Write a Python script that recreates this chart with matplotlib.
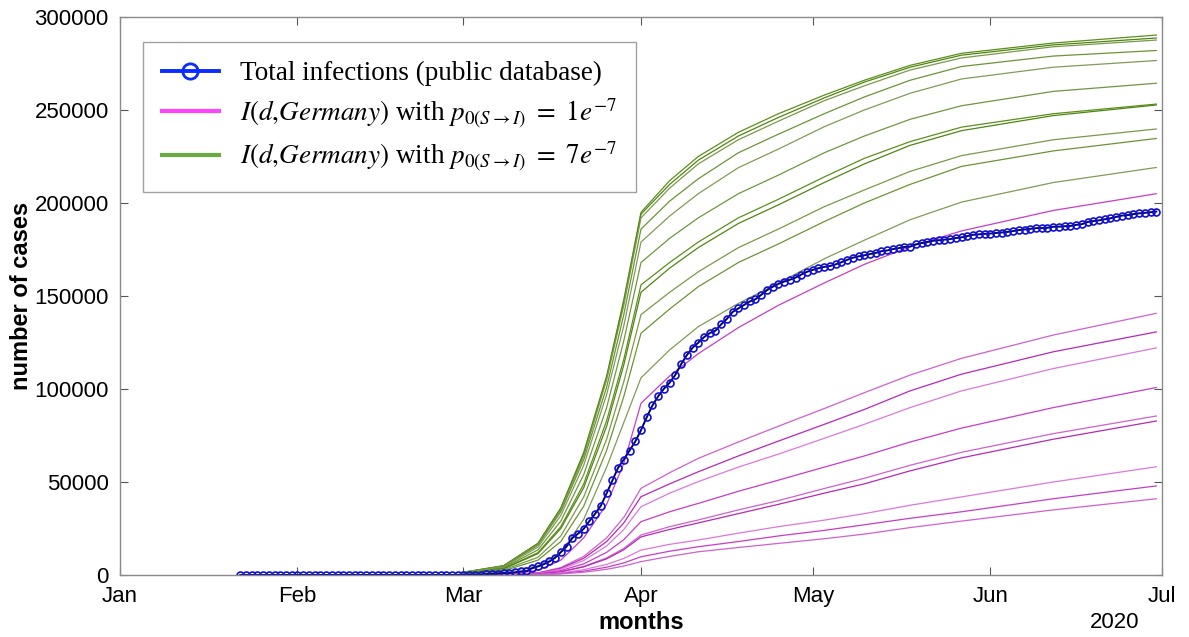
import numpy as np
import pandas as pd
import matplotlib
matplotlib.use("Agg")
import matplotlib.pyplot as plt
from matplotlib.lines import Line2D

plt.rcParams['font.family'] = ['Liberation Sans', 'DejaVu Sans']
plt.rcParams['mathtext.fontset'] = 'stix'

# reported cumulative infections, Germany, 22 Jan - 30 Jun 2020
total_cases = [
    0, 0, 0, 0, 0, 1, 4, 4, 4, 5,
    8, 10, 12, 12, 12, 12, 13, 13, 14, 14, 16, 16, 16, 16, 16, 16, 16, 16, 16, 16,
    16, 16, 16, 16, 17, 27, 46, 48, 79,
    130, 159, 196, 262, 482, 670, 799, 1040, 1176, 1457, 1908, 2078, 3675, 4585, 5795,
    7272, 9257, 12327, 15320, 19848, 22213, 24873, 29056, 32986, 37323, 43938, 50871,
    57695, 62095, 66885, 71808,
    77872, 84794, 91159, 96092, 100123, 103374, 107663, 113296, 118181, 122171, 124908,
    127854, 130072, 131359, 134753, 137698, 141397, 143342, 145184, 147065, 148291,
    150648, 153129, 154999, 156513, 157770, 158758, 159912, 161539, 163009,
    164077, 164967, 165664, 166152, 167007, 168162, 169430, 170588, 171324, 171879,
    172576, 173171, 174098, 174478, 175233, 175752, 176369, 176551, 177778, 178473,
    179021, 179710, 179986, 180328, 180600, 181200, 181524, 182196, 182922, 183189, 183410,
    183594, 183879, 184121, 184472, 184924, 185450, 185750, 186109, 186506, 186522,
    186691, 187226, 187267, 187518, 187682, 188252, 188604, 189817, 190299, 190670,
    191272, 191768, 192556, 193243, 193499, 194036, 194458, 194693, 195042, 195418,
]
case_dates = pd.date_range('2020-01-22', '2020-06-30')

# model curves, values read at these dates (thousands of cases)
model_dates = pd.to_datetime([
    '2020-03-01', '2020-03-08', '2020-03-14', '2020-03-18', '2020-03-22',
    '2020-03-26', '2020-03-29', '2020-04-01', '2020-04-06', '2020-04-11',
    '2020-04-18', '2020-04-25', '2020-05-03', '2020-05-10', '2020-05-18',
    '2020-05-27', '2020-06-12', '2020-06-30',
])

green_k = [
    [1.5, 5.0, 17, 36, 66, 107, 148, 195, 212, 225, 238, 248, 258, 266, 274, 280.5, 286, 290.3],
    [1.5, 5.0, 17, 36, 65, 106, 147, 194, 210, 223, 236, 246, 256.5, 265, 273, 279.5, 285, 288.7],
    [1.4, 4.8, 16.5, 35, 64, 105, 145, 192, 208, 221, 234, 244, 255, 263, 271.5, 278, 284, 287.6],
    [1.4, 4.6, 16, 34, 62, 101, 140, 186, 201, 213, 227, 237, 248, 257, 266, 273.4, 279, 282],
    [1.3, 4.3, 15, 32, 59, 97, 134, 179, 193, 205, 219, 229, 241, 250, 259, 266.7, 273, 276.6],
    [1.2, 3.9, 13.5, 29, 54, 90, 126, 168, 181, 192, 205, 215, 227, 236, 245, 252.3, 260, 264.4],
    [1.1, 3.5, 12, 26, 49, 83, 116, 156, 168, 179, 192, 202, 214, 224, 233, 240.8, 248, 253.2],
    [1.0, 3.3, 11.5, 25, 47, 80, 113, 152, 165, 176, 189, 199, 211, 221, 231, 238.9, 247, 252.7],
    [0.9, 2.8, 9.5, 21, 42, 73, 104, 140, 152, 163, 176, 186, 198, 207, 217, 225.5, 234, 239.8],
    [0.7, 2.3, 8, 18, 37, 67, 96, 130, 143, 155, 168, 178, 190, 200, 210, 219.7, 228, 234.7],
    [0.5, 1.5, 5, 12, 30, 58, 82, 106, 121, 133.5, 146, 157, 170, 180, 191, 200.5, 211, 219.1],
]

magenta_k = [
    [0, 0.3, 2.5, 8, 20, 38, 60, 92.3, 107, 119, 133, 145, 157, 167, 176.5, 185, 196, 205],
    [0, 0.1, 1.2, 4, 10, 20, 31, 46.6, 55, 62.7, 71.5, 80, 89.5, 98, 107.5, 116.5, 129, 140.7],
    [0, 0.1, 1.1, 3.6, 9, 18, 28, 42.1, 49, 55.5, 64, 72, 81, 89, 99, 108, 120, 130.7],
    [0, 0.1, 0.9, 3.1, 7.8, 15.6, 24.5, 36.7, 44, 50.2, 58, 65, 73.5, 81, 90, 99, 111, 122.1],
    [0, 0.1, 0.7, 2.4, 6, 12.2, 19, 28.7, 34, 38.5, 45, 51, 58, 64, 71.5, 79, 90, 100.8],
    [0, 0.05, 0.5, 1.8, 4.6, 9.2, 14.3, 21.5, 26, 29.6, 35, 40, 46.5, 52, 59, 66, 76, 85.5],
    [0, 0.05, 0.5, 1.7, 4.4, 8.7, 13.6, 20.5, 24.5, 28, 33, 38, 44, 49, 56, 63, 73, 82.8],
    [0, 0.03, 0.3, 1.1, 2.9, 5.7, 8.9, 13.4, 16.5, 18.8, 22.5, 26, 29.5, 33, 37.5, 42, 50, 58.2],
    [0, 0.02, 0.2, 0.8, 2.1, 4.2, 6.5, 9.8, 12.8, 15.2, 18, 21, 24, 27, 30.5, 34, 41, 47.9],
    [0, 0.02, 0.2, 0.6, 1.5, 3.1, 4.8, 7.2, 10, 12.5, 14.8, 17, 19.5, 22, 25.5, 29, 35, 41.0],
]

month_ticks = pd.date_range('2020-01-01', '2020-07-01', freq='MS')
month_labels = ['Jan', 'Feb', 'Mar', 'Apr', 'May', 'Jun', 'Jul']
y_ticks = [0, 50000, 100000, 150000, 200000, 250000, 300000]

green_cols = ['#5c8f1c', '#4f8612', '#7a9a48', '#6c9434', '#809c56', '#6f9640']
magenta_cols = ['#c83cc8', '#d060d0', '#b828b8', '#dc78dc']

fig = plt.figure(figsize=(11.89, 6.37), dpi=100)
ax = fig.add_axes([0.1009, 0.0973, 0.8764, 0.876])

for i, row in enumerate(green_k):
    ax.plot(model_dates, np.array(row) * 1000, color=green_cols[i % len(green_cols)], lw=0.9)
for i, row in enumerate(magenta_k):
    ax.plot(model_dates, np.array(row) * 1000, color=magenta_cols[i % len(magenta_cols)], lw=0.9)

ax.plot(case_dates, total_cases, color='#000070', lw=1.4, marker='o', ms=5,
        mfc='none', mec='#1010d0', mew=1.2)

ax.set_xlim(month_ticks[0], month_ticks[-1])
ax.set_ylim(0, 300000)
ax.set_xticks(month_ticks)
ax.set_xticklabels(month_labels)
ax.set_yticks(y_ticks)
ax.set_yticklabels([str(v) for v in y_ticks])
ax.tick_params(direction='in', length=6, width=0.8, color='#555555', top=True, right=True,
               labelsize=16, pad=8)
for s in ax.spines.values():
    s.set_color('#8a8a8a')
    s.set_linewidth(1.0)

ax.set_xlabel('months', fontsize=17, fontweight='bold', labelpad=3)
ax.set_ylabel('number of cases', fontsize=17, fontweight='bold', labelpad=1)
fig.text(1115 / 1189, 1 - 623 / 637, '2020', ha='center', va='center', fontsize=16)

handles = [
    Line2D([], [], color='#0a2cff', lw=2.8, marker='o', ms=11, mfc='none', mec='#0a2cff', mew=2),
    Line2D([], [], color='#ff44ff', lw=3),
    Line2D([], [], color='#6aaa40', lw=3),
]
labels = [
    'Total infections (public database)',
    r'$\mathit{I(d{,}Germany)}$ with $p_{0(S\rightarrow I)}\ =\ 1e^{-7}$',
    r'$\mathit{I(d{,}Germany)}$ with $p_{0(S\rightarrow I)}\ =\ 7e^{-7}$',
]
leg = ax.legend(handles, labels, loc='upper left', bbox_to_anchor=(0.022, 0.955),
                prop={'family': 'Liberation Serif', 'size': 19.5}, frameon=True, fancybox=False,
                edgecolor='#8a8a8a', handlelength=2.1, labelspacing=0.35, borderpad=0.7,
                handletextpad=0.8, borderaxespad=0)
leg.get_frame().set_linewidth(1.0)

fig.savefig('out.png', dpi=100)
